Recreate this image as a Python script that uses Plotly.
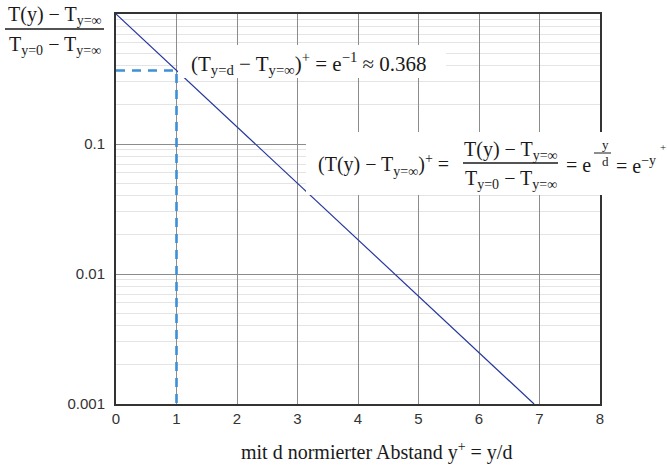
import plotly.graph_objects as go

# ---- data ----
decay_x = [0, 6.91]
decay_y = [1.0, 0.001]
marker_x = [0, 1, 1]
marker_y = [0.368, 0.368, 0.001]
x_ticks = [0, 1, 2, 3, 4, 5, 6, 7, 8]
y_ticks = [0.001, 0.01, 0.1]
y_tick_labels = ["0.001", "0.01", "0.1"]

W, H = 667, 468
L, R, T, B = 116, 600, 14, 404


def px(x):
    return (x - L) / (R - L)


def py(y):
    return (B - y) / (B - T)


minor_vals = [m * 10.0 ** e for e in (-3, -2, -1) for m in range(2, 10)]

fig = go.Figure()
fig.add_trace(go.Scatter(x=decay_x, y=decay_y, mode="lines",
                         line=dict(color="#26379c", width=1.2), showlegend=False,
                         hoverinfo="skip"))
fig.add_trace(go.Scatter(x=marker_x, y=marker_y, mode="lines",
                         line=dict(color="#3d8fd6", width=2.6, dash="9px,7px"),
                         showlegend=False, hoverinfo="skip"))

SERIF = "Liberation Serif"
TXT = "#1a1a1a"
FS = 20

shapes = [
    dict(type="rect", xref="paper", yref="paper", x0=px(178), x1=px(446), y0=py(78), y1=py(45),
         fillcolor="white", line=dict(width=0), layer="above"),
    dict(type="rect", xref="paper", yref="paper", x0=px(306), x1=px(667), y0=py(195), y1=py(132),
         fillcolor="white", line=dict(width=0), layer="above"),
    # fraction bars
    dict(type="line", xref="paper", yref="paper", x0=px(5), x1=px(104), y0=py(29), y1=py(29),
         line=dict(color=TXT, width=1.5), layer="above"),
    dict(type="line", xref="paper", yref="paper", x0=px(463), x1=px(558), y0=py(163), y1=py(163),
         line=dict(color=TXT, width=1.5), layer="above"),
    dict(type="line", xref="paper", yref="paper", x0=px(594), x1=px(611), y0=py(153), y1=py(153),
         line=dict(color=TXT, width=1), layer="above"),
]

def ann(text, x, y, size=FS, xanchor="center"):
    return dict(text=text, x=px(x), y=py(y), xref="paper", yref="paper", showarrow=False,
                xanchor=xanchor, yanchor="middle", font=dict(family=SERIF, size=size, color=TXT))

annotations = [
    # y-axis label (fraction)
    ann("T(y) − T<sub>y=∞</sub>", 55, 16),
    ann("T<sub>y=0</sub> − T<sub>y=∞</sub>", 55, 45),
    # annotation 1
    ann("(T<sub>y=d</sub> − T<sub>y=∞</sub>)<sup>+</sup> = e<sup>−1</sup> ≈ 0.368", 309, 63, size=21),
    # annotation 2
    ann("(T(y) − T<sub>y=∞</sub>)<sup>+</sup> =", 316, 165, xanchor="left"),
    ann("T(y) − T<sub>y=∞</sub>", 511, 150),
    ann("T<sub>y=0</sub> − T<sub>y=∞</sub>", 511, 179),
    ann("= e", 564, 165, xanchor="left"),
    ann("y", 605, 144, size=13),
    ann("d", 605, 161, size=13),
    ann("= e<sup>−y</sup>", 614, 165, xanchor="left"),
    ann("+", 663, 147, size=11),
    # x-axis title
    ann("mit d normierter Abstand y<sup>+</sup> = y/d", 376, 451, size=20),
]

fig.update_layout(
    width=W, height=H,
    margin=dict(l=L, r=W - R, t=T, b=H - B),
    paper_bgcolor="white", plot_bgcolor="white",
    shapes=shapes, annotations=annotations,
    xaxis=dict(range=[0, 8], tickvals=x_ticks, showgrid=True, gridcolor="#8c8c8c", gridwidth=1,
               zeroline=False, showline=True, linecolor="#333333", linewidth=2, mirror=True,
               ticks="", tickfont=dict(family="Liberation Sans", size=15, color="#333333"),
               ticklabelstandoff=0),
    yaxis=dict(type="log", range=[-3, 0], tickvals=y_ticks, ticktext=y_tick_labels,
               showgrid=True, gridcolor="#8c8c8c", gridwidth=1,
               minor=dict(tickvals=minor_vals, showgrid=True, gridcolor="#e4e4e4", gridwidth=1.3,
                          ticks=""),
               zeroline=False, showline=True, linecolor="#333333", linewidth=2, mirror=True,
               ticks="", tickfont=dict(family="Liberation Sans", size=15, color="#333333"),
               ticklabelstandoff=6),
)

fig.write_html("out.html", config={"displayModeBar": False},
               post_script="document.body.style.margin='0';document.body.style.padding='0';")
